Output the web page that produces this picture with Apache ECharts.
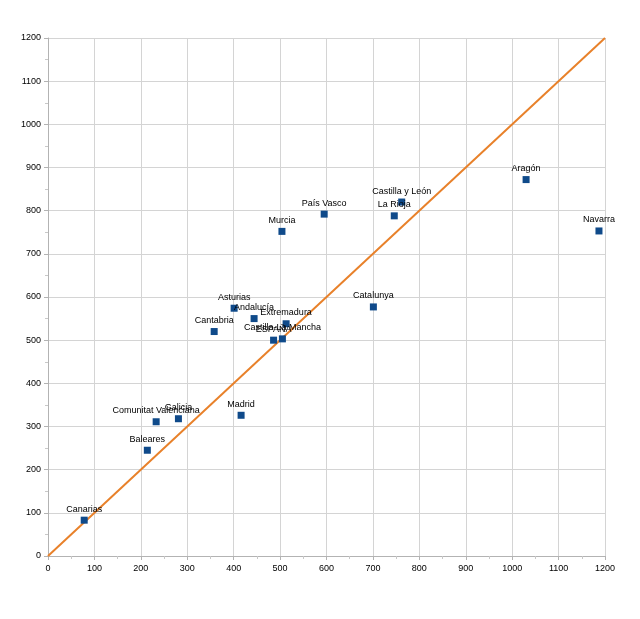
<!DOCTYPE html>
<html>
<head>
<meta charset="utf-8">
<script src="https://cdn.jsdelivr.net/npm/echarts@6/dist/echarts.min.js"></script>
<style>
html, body { margin: 0; padding: 0; background: #fff; }
#chart { width: 640px; height: 619px; }
</style>
</head>
<body>
<div id="chart"></div>
<script>
// region names and their (x, y) values
const regions = [
    'Canarias', 'Baleares', 'Comunitat Valenciana', 'Galicia', 'Madrid',
    'Cantabria', 'Asturias', 'Andalucía', 'Extremadura', 'ESPAÑA',
    'Castilla-La Mancha', 'Catalunya', 'Murcia', 'País Vasco', 'La Rioja',
    'Castilla y León', 'Aragón', 'Navarra'
];
const xValues = [78, 214, 233, 281, 416, 358, 401, 444, 513, 486, 505, 701, 504, 595, 746, 762, 1030, 1187];
const yValues = [83, 245, 311, 318, 326, 520, 574, 550, 538, 500, 503, 577, 752, 792, 788, 820, 872, 753];
// reference diagonal y = x
const diagonal = [[0, 0], [1200, 1200]];

const points = regions.map((name, i) => ({ name, value: [xValues[i], yValues[i]] }));

const axisCommon = {
    type: 'value',
    min: 0,
    max: 1200,
    interval: 100,
    axisLine: { show: true, lineStyle: { color: '#b3b3b3', width: 1 } },
    axisTick: { show: true, length: 4, lineStyle: { color: '#b3b3b3' } },
    minorTick: { show: true, splitNumber: 2, length: 3, lineStyle: { color: '#c8c8c8' } },
    axisLabel: { color: '#000', fontSize: 9, fontFamily: 'Liberation Sans', formatter: v => String(v) },
    splitLine: { show: true, lineStyle: { color: '#d4d4d4', width: 1 } }
};

const myChart = echarts.init(document.getElementById('chart'));
myChart.setOption({
    animation: false,
    grid: { left: 48, right: 35, top: 38, bottom: 63, containLabel: false },
    xAxis: { ...axisCommon, axisLabel: { ...axisCommon.axisLabel, margin: 8 } },
    yAxis: { ...axisCommon, axisLabel: { ...axisCommon.axisLabel, margin: 7 } },
    series: [
        {
            type: 'line',
            data: diagonal,
            symbol: 'none',
            lineStyle: { color: '#e8812a', width: 2 },
            z: 2
        },
        {
            type: 'scatter',
            data: points,
            symbol: 'rect',
            symbolSize: 7,
            itemStyle: { color: '#0f4a8a', opacity: 1 },
            label: {
                show: true,
                position: 'top',
                distance: 3,
                formatter: '{b}',
                color: '#000',
                opacity: 1,
                fontSize: 9,
                fontFamily: 'Liberation Sans'
            },
            z: 3
        }
    ]
});
</script>
</body>
</html>
